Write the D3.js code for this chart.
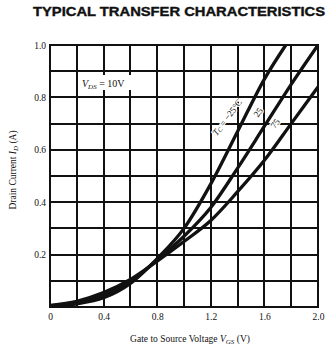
<!DOCTYPE html>
<html>
<head>
<meta charset="utf-8">
<script src="https://cdn.jsdelivr.net/npm/d3@7"></script>
<style>
  html, body { margin: 0; padding: 0; background: #fff; }
  svg { display: block; }
</style>
</head>
<body>
<svg id="chart" width="330" height="350"></svg>
<script>
// ---- data ----
const title = "TYPICAL TRANSFER CHARACTERISTICS";
const xTickValues = [0, 0.4, 0.8, 1.2, 1.6, 2.0];
const xTickLabels = ["0", "0.4", "0.8", "1.2", "1.6", "2.0"];
const yTickValues = [0.2, 0.4, 0.6, 0.8, 1.0];
const yTickLabels = ["0.2", "0.4", "0.6", "0.8", "1.0"];
const xGridValues = [0.2, 0.4, 0.6, 0.8, 1.0, 1.2, 1.4, 1.6, 1.8];
const yGridValues = [0.1, 0.2, 0.3, 0.4, 0.5, 0.6, 0.7, 0.8, 0.9];
const seriesNames = ["-25", "25", "75"];
// Gate voltage (V) vs drain current (A) for each case temperature
const vgsM25 = [0, 0.2, 0.4, 0.6, 0.8, 1.0, 1.2, 1.4, 1.6, 1.76];
const idM25  = [0.002, 0.012, 0.035, 0.09, 0.185, 0.30, 0.47, 0.67, 0.87, 1.0];
const vgs25  = [0, 0.2, 0.4, 0.6, 0.8, 1.0, 1.2, 1.4, 1.6, 1.8, 2.0];
const id25   = [0.004, 0.017, 0.045, 0.097, 0.18, 0.27, 0.38, 0.53, 0.69, 0.85, 1.0];
const vgs75  = [0, 0.2, 0.4, 0.6, 0.8, 1.0, 1.2, 1.4, 1.6, 1.8, 2.0];
const id75   = [0.006, 0.022, 0.055, 0.105, 0.175, 0.25, 0.33, 0.44, 0.56, 0.70, 0.84];

// ---- layout ----
const svg = d3.select("#chart");
const L = 50, R = 318, T = 45, B = 307;
const x = d3.scaleLinear().domain([0, 2.0]).range([L, R]);
const y = d3.scaleLinear().domain([0, 1.0]).range([B, T]);
const ink = "#111";
const serif = "'Liberation Serif', 'DejaVu Serif', serif";

// title
svg.append("text")
  .attr("x", 33).attr("y", 16)
  .attr("textLength", 292).attr("lengthAdjust", "spacingAndGlyphs")
  .attr("font-family", "'Liberation Sans', Arial, sans-serif")
  .attr("font-weight", "bold").attr("font-size", 13.5)
  .attr("fill", ink).attr("stroke", ink).attr("stroke-width", 0.4).text(title);

// grid (snapped to whole pixels for crisp 2px lines)
const g = svg.append("g");
g.selectAll("line.vx").data(xGridValues).join("line")
  .attr("x1", d => Math.round(x(d))).attr("x2", d => Math.round(x(d)))
  .attr("y1", T).attr("y2", B)
  .attr("stroke", ink).attr("stroke-width", 2);
g.selectAll("line.hy").data(yGridValues).join("line")
  .attr("x1", L).attr("x2", R)
  .attr("y1", d => Math.round(y(d))).attr("y2", d => Math.round(y(d)))
  .attr("stroke", ink).attr("stroke-width", 2);
g.append("rect").attr("x", L).attr("y", T).attr("width", R - L).attr("height", B - T)
  .attr("fill", "none").attr("stroke", ink).attr("stroke-width", 2);

// axes labels via d3 axes (no domain / ticks drawn)
const xAxis = d3.axisBottom(x).tickValues(xTickValues)
  .tickFormat((d, i) => xTickLabels[i]).tickSize(0).tickPadding(6);
const xa = svg.append("g").attr("transform", `translate(0,${B})`).call(xAxis);
xa.select(".domain").remove();
xa.selectAll("text").attr("font-family", serif).attr("font-size", 9.5).attr("fill", ink);

const yAxis = d3.axisLeft(y).tickValues(yTickValues)
  .tickFormat((d, i) => yTickLabels[i]).tickSize(0).tickPadding(4);
const ya = svg.append("g").attr("transform", `translate(${L},0)`).call(yAxis);
ya.select(".domain").remove();
ya.selectAll("text").attr("font-family", serif).attr("font-size", 9.5).attr("fill", ink);

// curves
const clip = svg.append("clipPath").attr("id", "plotclip");
clip.append("rect").attr("x", L).attr("y", T - 1).attr("width", R - L).attr("height", B - T + 2);
const line = d3.line().x(d => x(d[0])).y(d => y(d[1])).curve(d3.curveMonotoneX);
const series = [
  d3.zip(vgsM25, idM25),
  d3.zip(vgs25, id25),
  d3.zip(vgs75, id75)
];
svg.append("g").attr("clip-path", "url(#plotclip)")
  .selectAll("path").data(series).join("path")
  .attr("d", line).attr("fill", "none")
  .attr("stroke", ink).attr("stroke-width", 3.3).attr("stroke-linecap", "round");

// VDS label with white background
svg.append("rect").attr("x", 80).attr("y", 75).attr("width", 52).attr("height", 15).attr("fill", "#fff");
const vds = svg.append("text").attr("x", 82).attr("y", 87)
  .attr("font-family", serif).attr("font-size", 10).attr("fill", ink);
vds.append("tspan").attr("font-style", "italic").text("V");
vds.append("tspan").attr("font-style", "italic").attr("font-size", 7).attr("dy", 2).text("DS");
vds.append("tspan").attr("dy", -2).text(" = 10V");

// curve labels
function curveLabel(cx, cy, ang) {
  return svg.append("text")
    .attr("transform", `translate(${cx},${cy}) rotate(${ang})`)
    .attr("text-anchor", "middle").attr("dominant-baseline", "middle")
    .attr("font-family", serif).attr("font-size", 9).attr("fill", ink)
    .attr("stroke", "#fff").attr("stroke-width", 2.5).attr("paint-order", "stroke");
}
const t1 = curveLabel(228, 118, -53);
t1.append("tspan").attr("font-style", "italic").text("T");
t1.append("tspan").attr("font-style", "italic").attr("font-size", 6.5).attr("dy", 2).text("C");
t1.append("tspan").attr("dy", -2).text(" = \u221225\u00B0C");
curveLabel(259, 113, -55).text(seriesNames[1]);
curveLabel(276, 124, -55).text(seriesNames[2]);

// axis titles
const xt = svg.append("text").attr("x", 190).attr("y", 342).attr("text-anchor", "middle")
  .attr("font-family", serif).attr("font-size", 9.5).attr("fill", ink);
xt.append("tspan").text("Gate to Source Voltage ");
xt.append("tspan").attr("font-style", "italic").text("V");
xt.append("tspan").attr("font-style", "italic").attr("font-size", 7).attr("dy", 2).text("GS");
xt.append("tspan").attr("dy", -2).text(" (V)");

const yt = svg.append("text").attr("transform", "translate(16,170) rotate(-90)")
  .attr("text-anchor", "middle")
  .attr("font-family", serif).attr("font-size", 9.5).attr("fill", ink);
yt.append("tspan").text("Drain Current ");
yt.append("tspan").attr("font-style", "italic").text("I");
yt.append("tspan").attr("font-style", "italic").attr("font-size", 7).attr("dy", 2).text("D");
yt.append("tspan").attr("dy", -2).text(" (A)");
</script>
</body>
</html>
